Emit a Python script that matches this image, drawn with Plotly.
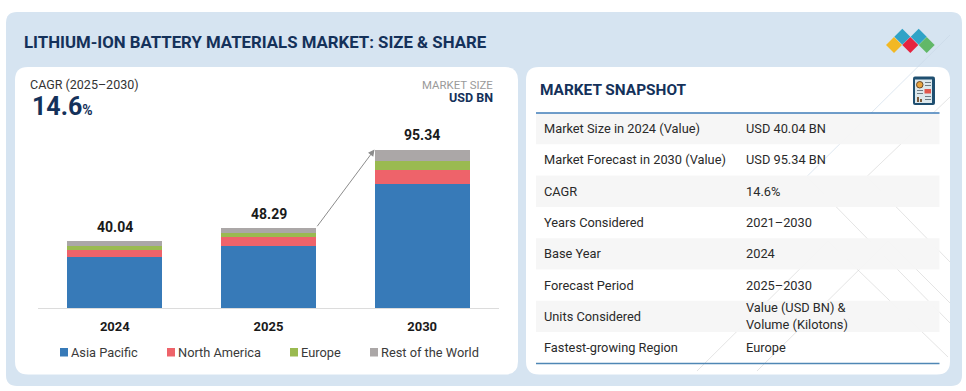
import plotly.graph_objects as go

W, H = 966, 391

title = "LITHIUM-ION BATTERY MATERIALS MARKET: SIZE & SHARE"
years = ["2024", "2025", "2030"]
totals = [40.04, 48.29, 95.34]
asia_pacific = [30.5, 37.5, 74.3]
north_america = [4.4, 5.2, 8.9]
europe = [2.4, 2.2, 5.05]
rest_of_world = [2.74, 3.39, 7.09]

series_names = ["Asia Pacific", "North America", "Europe", "Rest of the World"]
series_colors = ["#377ab8", "#ee636a", "#9aba50", "#aba7a7"]
legend_x = [60, 167, 290, 370]

snapshot_labels = ["Market Size in 2024 (Value)", "Market Forecast in 2030 (Value)", "CAGR",
                   "Years Considered", "Base Year", "Forecast Period", "Units Considered",
                   "Fastest-growing Region"]
snapshot_values = ["USD 40.04 BN", "USD 95.34 BN", "14.6%", "2021–2030", "2024", "2025–2030",
                   "Value (USD BN) &<br>Volume (Kilotons)", "Europe"]

NAVY = "#14315a"
FONT = "Roboto"


def fx(x):
    return x / W


def fy(y):
    return 1 - y / H


def rrect(x0, y0, x1, y1, r, fill):
    p = (f"M {fx(x0 + r)} {fy(y0)} L {fx(x1 - r)} {fy(y0)} Q {fx(x1)} {fy(y0)} {fx(x1)} {fy(y0 + r)} "
         f"L {fx(x1)} {fy(y1 - r)} Q {fx(x1)} {fy(y1)} {fx(x1 - r)} {fy(y1)} "
         f"L {fx(x0 + r)} {fy(y1)} Q {fx(x0)} {fy(y1)} {fx(x0)} {fy(y1 - r)} "
         f"L {fx(x0)} {fy(y0 + r)} Q {fx(x0)} {fy(y0)} {fx(x0 + r)} {fy(y0)} Z")
    return dict(type="path", path=p, xref="paper", yref="paper", fillcolor=fill,
                line=dict(width=0), layer="below")


def rect(x0, y0, x1, y1, fill, layer="below"):
    return dict(type="rect", xref="paper", yref="paper", x0=fx(x0), x1=fx(x1), y0=fy(y1), y1=fy(y0),
                fillcolor=fill, line=dict(width=0), layer=layer)


def seg(x0, y0, x1, y1, color, width=1):
    return dict(type="line", xref="paper", yref="paper", x0=fx(x0), x1=fx(x1), y0=fy(y0), y1=fy(y1),
                line=dict(color=color, width=width), layer="below")


def diamond(cx, cy, r, fill):
    p = (f"M {fx(cx)} {fy(cy - r)} L {fx(cx + r)} {fy(cy)} L {fx(cx)} {fy(cy + r)} "
         f"L {fx(cx - r)} {fy(cy)} Z")
    return dict(type="path", path=p, xref="paper", yref="paper", fillcolor=fill,
                line=dict(width=0), layer="above")


def text(x, y, s, size=13, color="#2a2a2a", anchor="left", bold=False):
    return dict(xref="paper", yref="paper", x=fx(x), y=fy(y), text=s, showarrow=False,
                xanchor=anchor, yanchor="middle", align=anchor,
                font=dict(family=FONT, size=size, color=color, weight=700 if bold else 400))


fig = go.Figure()
for name, vals, col in zip(series_names, [asia_pacific, north_america, europe, rest_of_world], series_colors):
    fig.add_bar(x=list(range(len(years))), y=vals, name=name, marker=dict(color=col, line=dict(width=0)),
                width=0.617, showlegend=False)

shapes = [rrect(6, 12, 962, 386, 11, "#d6e4f1"),
          rrect(15, 67, 518, 374.5, 13, "#ffffff"),
          rrect(526, 67, 950, 374.5, 13, "#ffffff")]

# faint decorative lines behind the snapshot table
faint = "rgba(205,205,205,0.55)"
shapes += [seg(950, 35, 806.7, 176.7, "rgba(200,215,230,0.6)"),
           seg(950, 97, 866.7, 176.7, faint),
           seg(806.7, 176.7, 950, 323, faint),
           seg(866.7, 176.7, 950, 262, faint),
           seg(828, 241, 948, 357, faint),
           seg(828, 241, 697, 371, faint),
           seg(888, 241, 757, 371, faint),
           seg(888, 241, 950, 303, faint)]

# snapshot rows
row_tops = [113, 144.3, 175.6, 206.9, 238.2, 269.5, 300.8, 332.1, 363.4]
for i in range(8):
    if i % 2 == 0:
        shapes.append(rect(536, row_tops[i], 939.5, row_tops[i + 1], "rgba(245,245,245,0.95)"))
shapes += [seg(536, 113, 939.5, 113, "#3f7db8", 1.5), seg(536, 363.4, 939.5, 363.4, "#4f87b5", 1.5)]

# logo
shapes += [diamond(902.3, 36.7, 8, "#2fa3c7"), diamond(918.7, 36.7, 8, "#2fa3c7"),
           diamond(894, 45, 8, "#f2b824"), diamond(910.3, 45, 8, "#e5233f"), diamond(926.7, 45, 8, "#62b868")]

# report icon
shapes += [rrect(913, 76.5, 935, 105, 2, "#1f4f70"),
           rect(915, 79.5, 932, 103, "#dde8ec", "above"),
           dict(type="circle", xref="paper", yref="paper", x0=fx(916.5), x1=fx(923), y0=fy(88), y1=fy(81.5),
                fillcolor="#e8a33d", line=dict(color="#6b4a2a", width=1), layer="above"),
           rect(924.5, 89, 931, 93.5, "#e2574c", "above"),
           rect(917, 97, 919, 102, "#7a5a3a", "above"), rect(920, 99, 922, 102, "#7a5a3a", "above"),
           rect(925, 82, 931, 83, "#6f7c84", "above"), rect(925, 85, 931, 86, "#6f7c84", "above"),
           rect(917, 90, 923, 91, "#6f7c84", "above"), rect(917, 93, 923, 94, "#6f7c84", "above"),
           rect(925, 96, 931, 97, "#6f7c84", "above"), rect(925, 99, 931, 100, "#6f7c84", "above")]

annotations = [
    text(21.5, 41.5, f"<b>{title}</b>", 16.8, NAVY),
    text(28, 85, "CAGR (2025–2030)", 12.5, "#333333"),
    text(30, 107, '<b>14.6</b><b style="font-size:14px">%</b>', 25, NAVY),
    text(495, 85, "MARKET SIZE", 11.4, "#9a9a9a", "right"),
    text(495, 97.5, "USD BN", 12.5, NAVY, "right", True),
    text(537.5, 89.5, "MARKET SNAPSHOT", 15.4, NAVY, bold=True),
]

# value labels and arrow follow the data axes
for i, t in enumerate(totals):
    annotations.append(dict(x=i, y=t, xref="x", yref="y", text=f"<b>{t:.2f}</b>", showarrow=False,
                            yanchor="bottom", yshift=4,
                            font=dict(family=FONT, size=14, color="#1a1a1a")))
annotations.append(dict(x=2 - 0.31, y=totals[2], xref="x", yref="y", ax=1 + 0.31, ay=totals[1],
                        axref="x", ayref="y", text="", showarrow=True, arrowhead=2, arrowsize=1.3,
                        arrowwidth=1, arrowcolor="#8c8c8c"))

# legend
for x, name, col in zip(legend_x, series_names, series_colors):
    shapes.append(rect(x, 348, x + 8, 356.5, col, "above"))
    annotations.append(text(x + 9, 352.5, name, 12.8, "#3a3a3a"))

# snapshot text
for i, (a, b) in enumerate(zip(snapshot_labels, snapshot_values)):
    yc = (row_tops[i] + row_tops[i + 1]) / 2
    annotations.append(text(542, yc, a, 12.8))
    annotations.append(text(744, yc, b, 12.8))

base_y, top_y = 308, 130
fig.update_layout(
    width=W, height=H, margin=dict(l=0, r=0, t=0, b=0), autosize=False,
    paper_bgcolor="#ffffff", plot_bgcolor="rgba(0,0,0,0)", barmode="stack", showlegend=False,
    shapes=shapes, annotations=annotations,
    xaxis=dict(domain=[38 / W, 499 / W], range=[-0.5, 2.5], tickmode="array",
               tickvals=list(range(len(years))), ticktext=years, showgrid=False, zeroline=False,
               showline=True, linecolor="#dcdcdc", linewidth=1, ticks="", ticklabelstandoff=6,
               tickfont=dict(family=FONT, size=13, color="#1a1a1a", weight=700)),
    yaxis=dict(domain=[1 - base_y / H, 1 - top_y / H], range=[0, (base_y - top_y) / 1.6625],
               visible=False, showgrid=False, zeroline=False),
)

fig.write_html("out.html", config={"displayModeBar": False},
               post_script="document.body.style.margin='0';document.body.style.overflow='hidden';")
